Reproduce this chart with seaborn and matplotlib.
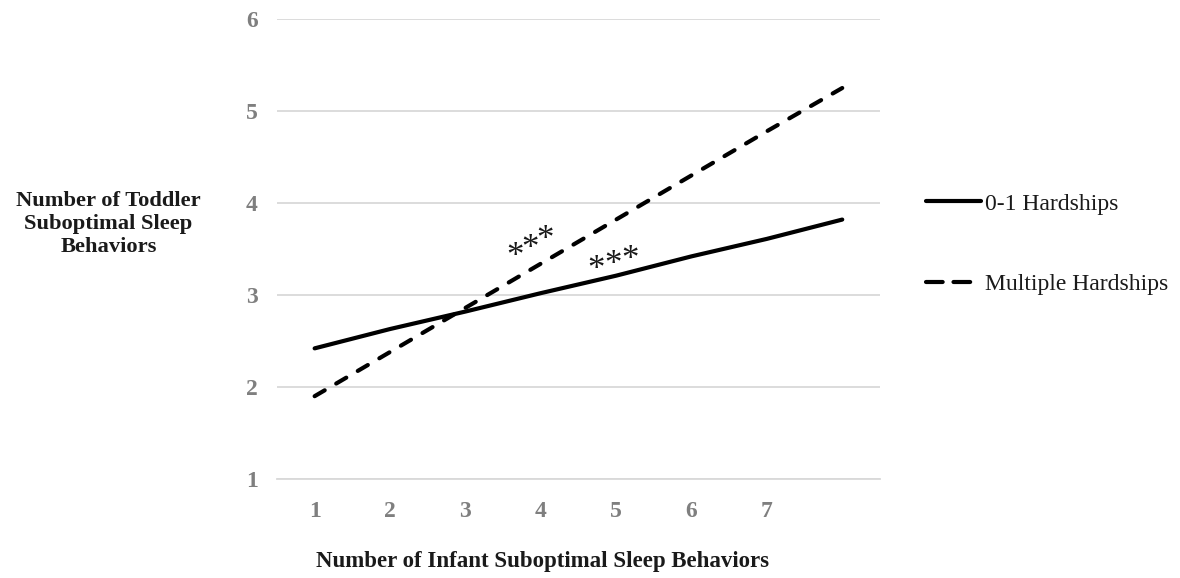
import pandas as pd
import matplotlib.pyplot as plt
import seaborn as sns

# Podaci ocitani sa grafika
infant_behaviors = [1, 2, 3, 4, 5, 6, 7, 8]
tick_labels = ['1', '2', '3', '4', '5', '6', '7', '']
low_hardship = [2.42, 2.63, 2.82, 3.02, 3.21, 3.42, 3.61, 3.82]
multi_hardship = [1.90, 2.38, 2.86, 3.34, 3.82, 4.30, 4.78, 5.25]
group_names = ['0-1 Hardships', 'Multiple Hardships']

# Zvezdice znacajnosti (svaka zvezdica posebno)
star_x = [3.655, 3.854, 4.053, 4.730, 4.956, 5.182]
star_y = [3.41, 3.495, 3.59, 3.27, 3.325, 3.37]

df = pd.DataFrame({
    'infant': infant_behaviors * 2,
    'toddler': low_hardship + multi_hardship,
    'group': [group_names[0]] * 8 + [group_names[1]] * 8,
})

sns.set_theme(style='white')
plt.rcParams['font.family'] = ['Liberation Serif', 'DejaVu Serif']

fig = plt.figure(figsize=(11.8, 5.78), dpi=100)
ax = fig.add_axes([0.2347, 0.1713, 0.511, 0.7958])

dash_pat = (2.8, 3.2)
sns.lineplot(data=df, x='infant', y='toddler', hue='group', style='group',
             palette={group_names[0]: 'black', group_names[1]: 'black'},
             dashes={group_names[0]: '', group_names[1]: dash_pat},
             linewidth=3, ax=ax, legend=False)
for line in ax.get_lines():
    line.set_dash_capstyle('round')
    line.set_solid_capstyle('round')

ax.set_xlim(0.5, 8.5)
ax.set_ylim(1, 6)
ax.set_yticks([1, 2, 3, 4, 5, 6])
ax.set_xticks(infant_behaviors)
ax.set_xticklabels(tick_labels)
ax.yaxis.grid(True, color='#d9d9d9', linewidth=1.3)
for side in ['top', 'right', 'left']:
    ax.spines[side].set_visible(False)
ax.spines['bottom'].set_color('#d9d9d9')
ax.spines['bottom'].set_linewidth(1.3)
ax.tick_params(axis='both', length=0, colors='#7f7f7f', labelsize=17)
ax.tick_params(axis='x', pad=16)
ax.tick_params(axis='y', pad=14)
for lab in ax.get_xticklabels() + ax.get_yticklabels():
    lab.set_fontweight('bold')

ax.set_xlabel('')
ax.set_ylabel('')
fig.text(0.46, 0.029, 'Number of Infant Suboptimal Sleep Behaviors',
         ha='center', va='center', fontsize=16.5, fontweight='bold', color='#1a1a1a')
fig.text(0.092, 0.6125, 'Number of Toddler\nSuboptimal Sleep\nBehaviors',
         ha='center', va='center', fontsize=16.2, fontweight='bold', color='#1a1a1a',
         linespacing=1.22)

for sx, sy in zip(star_x, star_y):
    ax.text(sx, sy, '*', fontsize=25, ha='center', va='center', color='#1a1a1a')

# Legenda
handles = [plt.Line2D([], [], color='black', linewidth=3, solid_capstyle='round'),
           plt.Line2D([], [], color='black', linewidth=3, dashes=(4.0, 2.6),
                      dash_capstyle='round')]
fig.legend(handles, group_names, loc='center left', bbox_to_anchor=(0.7665, 0.5775),
           frameon=False, fontsize=17, handlelength=2.35, handletextpad=0.15,
           labelspacing=2.5, labelcolor='#1a1a1a')

fig.savefig('out.png', dpi=100)
